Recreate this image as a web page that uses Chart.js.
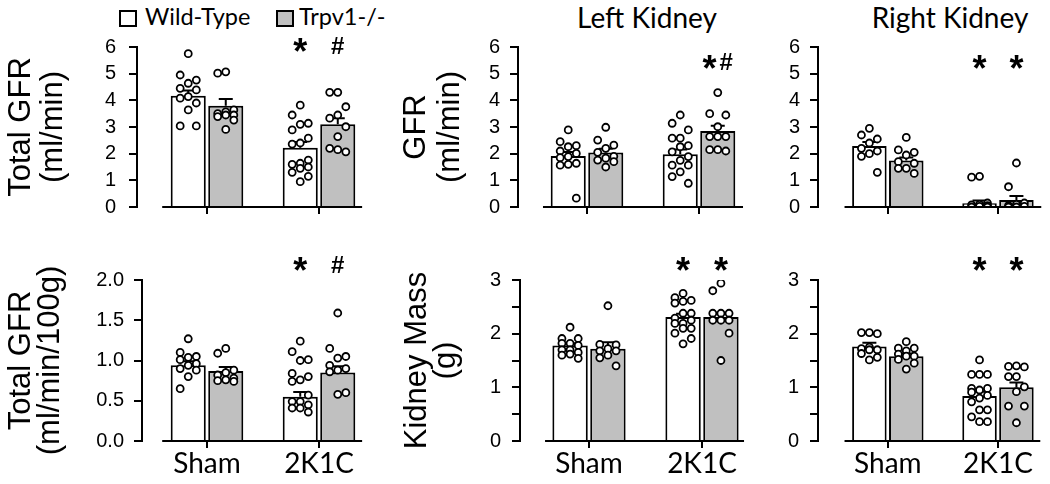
<!DOCTYPE html>
<html><head><meta charset="utf-8">
<script src="https://cdn.jsdelivr.net/npm/chart.js@4.4.1/dist/chart.umd.min.js"></script>
<style>
html,body{margin:0;padding:0;background:#fff;}
#wrap{position:relative;width:1050px;height:484px;overflow:hidden;background:#fff;}
#wrap canvas{position:absolute;left:0;top:0;}
.t{position:absolute;white-space:nowrap;font-family:Lato,sans-serif;line-height:1;color:#000;}
.sw{position:absolute;box-sizing:border-box;border:2px solid #000;}
</style></head><body>
<div id="wrap">
  <div class="sw" style="left:119px;top:10px;width:18px;height:17px;background:#fff"></div>
  <div class="t" style="left:145px;top:5px;font-size:23.5px">Wild-Type</div>
  <div class="sw" style="left:276px;top:10px;width:18px;height:17px;background:#c0c0c0"></div>
  <div class="t" style="left:299px;top:5px;font-size:23.5px">Trpv1-/-</div>
  <div class="t" style="left:547px;top:3px;width:200px;text-align:center;font-size:28px">Left Kidney</div>
  <div class="t" style="left:850px;top:3px;width:200px;text-align:center;font-size:28px">Right Kidney</div>
</div>
<script>
// ---------- categories / series / tick labels ----------
const CATEGORIES = ['Sham', '2K1C'];
const SERIES_NAMES = ['Wild-Type', 'Trpv1-/-'];
const Y_LABELS_GFR = ['0', '1', '2', '3', '4', '5', '6'];
const Y_LABELS_NORM = ['0.0', '0.5', '1.0', '1.5', '2.0'];
const Y_LABELS_MASS = ['0', '', '1', '', '2', '', '3'];

// ---------- Total GFR (ml/min) ----------
const TGFR_MEAN_WT = [4.17, 2.22];
const TGFR_MEAN_KO = [3.80, 3.10];
const TGFR_SEM_WT = [0.20, 0.22];
const TGFR_SEM_KO = [0.25, 0.23];
const TGFR_WT_SHAM = [5.75, 4.95, 4.76, 4.64, 4.45, 4.39, 4.14, 4.08, 3.90, 3.64, 3.04, 3.04];
const TGFR_KO_SHAM = [5.07, 5.02, 3.64, 3.57, 3.50, 3.45, 3.45, 3.39, 3.26, 2.91];
const TGFR_WT_2K1C = [3.82, 3.45, 3.14, 3.10, 2.89, 2.58, 2.40, 2.36, 1.76, 1.64, 1.60, 1.50, 1.45, 1.30, 1.15, 0.95];
const TGFR_KO_2K1C = [4.30, 4.30, 3.76, 3.45, 3.33, 3.01, 2.64, 2.20, 2.07, 2.15];
const TGFR_SIG = [['', ''], ['*', '#']];

// ---------- Left kidney GFR ----------
const LGFR_MEAN_WT = [1.91, 1.98];
const LGFR_MEAN_KO = [2.04, 2.85];
const LGFR_SEM_WT = [0.15, 0.18];
const LGFR_SEM_KO = [0.14, 0.20];
const LGFR_WT_SHAM = [2.89, 2.45, 2.30, 2.26, 2.10, 2.01, 1.89, 1.85, 1.64, 1.60, 1.57, 0.33];
const LGFR_KO_SHAM = [2.99, 2.51, 2.32, 2.20, 2.05, 1.90, 1.83, 1.76, 1.70, 1.50];
const LGFR_WT_2K1C = [3.45, 3.14, 2.89, 2.58, 2.58, 2.30, 2.26, 2.07, 1.89, 1.75, 1.57, 1.57, 1.32, 1.14, 0.89];
const LGFR_KO_2K1C = [4.29, 3.50, 3.45, 3.01, 2.64, 2.64, 2.64, 2.15, 2.10, 2.15];
const LGFR_SIG = [['', ''], ['', '*#']];

// ---------- Right kidney GFR ----------
const RGFR_MEAN_WT = [2.29, 0.14];
const RGFR_MEAN_KO = [1.74, 0.26];
const RGFR_SEM_WT = [0.15, 0.10];
const RGFR_SEM_KO = [0.12, 0.15];
const RGFR_WT_SHAM = [2.95, 2.70, 2.55, 2.40, 2.20, 2.10, 2.00, 1.90, 1.30];
const RGFR_KO_SHAM = [2.61, 2.14, 2.05, 1.95, 1.70, 1.64, 1.45, 1.45, 1.26];
const RGFR_WT_2K1C = [1.15, 1.12, 0.15, 0.10, 0.08, 0.05, 0.02, 0.00, 0.00];
const RGFR_KO_2K1C = [1.65, 0.76, 0.15, 0.10, 0.05, 0.02, 0.00, 0.00];
const RGFR_SIG = [['', ''], ['*', '*']];

// ---------- Total GFR (ml/min/100g) ----------
const NGFR_MEAN_WT = [0.94, 0.55];
const NGFR_MEAN_KO = [0.87, 0.85];
const NGFR_SEM_WT = [0.05, 0.06];
const NGFR_SEM_KO = [0.05, 0.08];
const NGFR_WT_SHAM = [1.27, 1.10, 1.05, 1.04, 1.01, 0.96, 0.94, 0.90, 0.88, 0.80, 0.65];
const NGFR_KO_SHAM = [1.15, 1.09, 0.88, 0.85, 0.82, 0.78, 0.76, 0.75, 0.74];
const NGFR_WT_2K1C = [1.24, 1.11, 1.01, 1.00, 0.84, 0.80, 0.76, 0.74, 0.57, 0.49, 0.49, 0.45, 0.41, 0.41, 0.36];
const NGFR_KO_2K1C = [1.59, 1.15, 1.05, 1.03, 0.94, 0.90, 0.88, 0.86, 0.60, 0.58];
const NGFR_SIG = [['', ''], ['*', '#']];

// ---------- Left kidney mass (g) ----------
const LMASS_MEAN_WT = [1.78, 2.31];
const LMASS_MEAN_KO = [1.72, 2.31];
const LMASS_SEM_WT = [0.04, 0.06];
const LMASS_SEM_KO = [0.12, 0.08];
const LMASS_WT_SHAM = [2.12, 1.91, 1.91, 1.82, 1.82, 1.78, 1.70, 1.70, 1.65, 1.62, 1.60, 1.54];
const LMASS_KO_SHAM = [2.52, 1.80, 1.79, 1.72, 1.68, 1.68, 1.60, 1.55, 1.40];
const LMASS_WT_2K1C = [2.75, 2.67, 2.62, 2.60, 2.57, 2.38, 2.38, 2.29, 2.25, 2.19, 2.19, 2.10, 2.10, 2.01, 1.91, 1.81];
const LMASS_KO_2K1C = [2.94, 2.80, 2.38, 2.38, 2.38, 2.25, 2.25, 2.25, 2.01, 1.50];
const LMASS_SIG = [['', ''], ['*', '*']];

// ---------- Right kidney mass (g) ----------
const RMASS_MEAN_WT = [1.76, 0.84];
const RMASS_MEAN_KO = [1.58, 1.00];
const RMASS_SEM_WT = [0.07, 0.08];
const RMASS_SEM_KO = [0.05, 0.09];
const RMASS_WT_SHAM = [2.02, 2.02, 2.00, 1.75, 1.72, 1.70, 1.70, 1.63, 1.56, 1.51];
const RMASS_KO_SHAM = [1.85, 1.73, 1.73, 1.68, 1.62, 1.58, 1.58, 1.52, 1.45, 1.34];
const RMASS_WT_2K1C = [1.51, 1.24, 1.24, 1.24, 0.98, 0.98, 0.95, 0.91, 0.85, 0.80, 0.73, 0.58, 0.58, 0.45, 0.36, 0.36];
const RMASS_KO_2K1C = [1.40, 1.39, 1.38, 1.20, 1.20, 1.01, 0.92, 0.65, 0.65, 0.34];
const RMASS_SIG = [['', ''], ['*', '*']];

// ---------- styling constants ----------
const FILLS = ['#ffffff', '#c0c0c0'];
const CAT_PCT = 0.67, BAR_PCT = 0.935;
const BAR_OFFSET = CAT_PCT / 4;
const JITTER = [0, -0.072, 0.072];
const SIG_FONTS = { '*': 'bold 36px "Liberation Sans"', '#': 'bold 24px "Liberation Sans"' };

const PANELS = [
  { means: [TGFR_MEAN_WT, TGFR_MEAN_KO], sems: [TGFR_SEM_WT, TGFR_SEM_KO],
    points: [[TGFR_WT_SHAM, TGFR_WT_2K1C], [TGFR_KO_SHAM, TGFR_KO_2K1C]], sig: TGFR_SIG,
    yMax: 6, yLabels: Y_LABELS_GFR, title: ['Total GFR', '(ml/min)'], showX: false,
    geo: { axisX: 137, top: 47, bottom: 207, x0: 207, unit: 112, right: 366, lineFrom: -0.40, lineTo: 1.385, c1: 21.6, lh: 32, tickPad: 13, sigPx: 45 } },
  { means: [LGFR_MEAN_WT, LGFR_MEAN_KO], sems: [LGFR_SEM_WT, LGFR_SEM_KO],
    points: [[LGFR_WT_SHAM, LGFR_WT_2K1C], [LGFR_KO_SHAM, LGFR_KO_2K1C]], sig: LGFR_SIG,
    yMax: 6, yLabels: Y_LABELS_GFR, title: ['GFR', '(ml/min)'], showX: false,
    geo: { axisX: 518, top: 47, bottom: 207, x0: 587, unit: 112, right: 746, lineFrom: -0.393, lineTo: 1.393, c1: 416.6, lh: 34, tickPad: 10, sigPx: 61.5 } },
  { means: [RGFR_MEAN_WT, RGFR_MEAN_KO], sems: [RGFR_SEM_WT, RGFR_SEM_KO],
    points: [[RGFR_WT_SHAM, RGFR_WT_2K1C], [RGFR_KO_SHAM, RGFR_KO_2K1C]], sig: RGFR_SIG,
    yMax: 6, yLabels: Y_LABELS_GFR, title: null, showX: false,
    geo: { axisX: 818, top: 47, bottom: 207, x0: 889, unit: 112, right: 1048, lineFrom: -0.393, lineTo: 1.393, tickPad: 10, sigPx: 61.5 } },
  { means: [NGFR_MEAN_WT, NGFR_MEAN_KO], sems: [NGFR_SEM_WT, NGFR_SEM_KO],
    points: [[NGFR_WT_SHAM, NGFR_WT_2K1C], [NGFR_KO_SHAM, NGFR_KO_2K1C]], sig: NGFR_SIG,
    yMax: 2, yLabels: Y_LABELS_NORM, title: ['Total GFR', '(ml/min/100g)'], showX: true,
    geo: { axisX: 142, top: 280, bottom: 441, x0: 207, unit: 112, right: 366, lineFrom: -0.40, lineTo: 1.385, c1: 21.6, lh: 29, tickPad: 10, sigPx: 264 } },
  { means: [LMASS_MEAN_WT, LMASS_MEAN_KO], sems: [LMASS_SEM_WT, LMASS_SEM_KO],
    points: [[LMASS_WT_SHAM, LMASS_WT_2K1C], [LMASS_KO_SHAM, LMASS_KO_2K1C]], sig: LMASS_SIG,
    yMax: 3, yLabels: Y_LABELS_MASS, title: ['Kidney Mass', '(g)'], showX: true,
    geo: { axisX: 520, top: 280, bottom: 441, x0: 589, unit: 113, right: 748, lineFrom: -0.389, lineTo: 1.372, c1: 417.6, lh: 29, tickPad: 11, sigPx: 263.5 } },
  { means: [RMASS_MEAN_WT, RMASS_MEAN_KO], sems: [RMASS_SEM_WT, RMASS_SEM_KO],
    points: [[RMASS_WT_SHAM, RMASS_WT_2K1C], [RMASS_KO_SHAM, RMASS_KO_2K1C]], sig: RMASS_SIG,
    yMax: 3, yLabels: Y_LABELS_MASS, title: null, showX: true,
    geo: { axisX: 818, top: 280, bottom: 441, x0: 889, unit: 112, right: 1048, lineFrom: -0.393, lineTo: 1.384, tickPad: 11, sigPx: 263.5 } }
];

const deco = {
  id: 'deco',
  afterDatasetDraw(chart, args) {
    const ds = chart.data.datasets[args.index];
    if (!ds.sem) return;
    const ctx = chart.ctx, ys = chart.scales.y;
    ctx.save();
    ctx.strokeStyle = '#000'; ctx.lineWidth = 2;
    args.meta.data.forEach((el, i) => {
      const top = ys.getPixelForValue(ds.data[i].y + ds.sem[i]);
      ctx.beginPath();
      ctx.moveTo(el.x, el.y); ctx.lineTo(el.x, top);
      ctx.moveTo(el.x - 7, top); ctx.lineTo(el.x + 7, top);
      ctx.stroke();
    });
    ctx.restore();
  },
  afterDraw(chart, args, opts) {
    const ctx = chart.ctx, xs = chart.scales.x;
    const yb = chart.chartArea.bottom;
    ctx.save();
    ctx.strokeStyle = '#000'; ctx.lineWidth = 2;
    ctx.beginPath();
    ctx.moveTo(xs.getPixelForValue(opts.lineFrom), yb);
    ctx.lineTo(xs.getPixelForValue(opts.lineTo), yb);
    ctx.stroke();
    // significance markers
    ctx.fillStyle = '#000';
    ctx.textAlign = 'left'; ctx.textBaseline = 'alphabetic';
    chart.data.datasets.forEach((ds, di) => {
      if (!ds.sig) return;
      const meta = chart.getDatasetMeta(di);
      ds.sig.forEach((txt, i) => {
        if (!txt) return;
        const chars = txt.split('');
        const gap = 3;
        const widths = chars.map(c => { ctx.font = SIG_FONTS[c]; return ctx.measureText(c).width; });
        const total = widths.reduce((a, b) => a + b, 0) + gap * (chars.length - 1);
        let x = meta.data[i].x - total / 2;
        chars.forEach((c, k) => {
          ctx.font = SIG_FONTS[c];
          const m = ctx.measureText(c);
          const y = opts.sigPx + (m.actualBoundingBoxAscent - m.actualBoundingBoxDescent) / 2;
          ctx.fillText(c, x, y);
          x += widths[k] + gap;
        });
      });
    });
    ctx.restore();
  }
};

function makeChart(p) {
  const g = p.geo;
  const titleLeft = p.title ? g.c1 - g.lh / 2 : g.axisX - 60;
  const xH = 40;
  const xmin = (g.axisX - g.x0) / g.unit, xmax = (g.right - g.x0) / g.unit;
  const canvas = document.createElement('canvas');
  canvas.width = 1050; canvas.height = 484;
  document.getElementById('wrap').appendChild(canvas);
  const datasets = [];
  p.means.forEach((m, s) => {
    datasets.push({
      type: 'bar', label: SERIES_NAMES[s],
      data: CATEGORIES.map((c, i) => ({ x: i, y: m[i] })),
      sem: p.sems[s], sig: p.sig.map(r => r[s]),
      backgroundColor: FILLS[s], borderColor: '#000', borderWidth: 2, borderSkipped: 'start',
      categoryPercentage: CAT_PCT, barPercentage: BAR_PCT, order: 1
    });
  });
  p.points.forEach((sp, s) => {
    const data = [];
    sp.forEach((vals, i) => vals.forEach((v, k) => data.push({ x: i + (s ? 1 : -1) * BAR_OFFSET + JITTER[k % JITTER.length], y: v })));
    datasets.push({
      type: 'scatter', label: SERIES_NAMES[s] + ' points', data, order: 0,
      pointRadius: 3.5, pointBackgroundColor: '#fff', pointBorderColor: '#000', pointBorderWidth: 1.8,
      showLine: false
    });
  });
  new Chart(canvas, {
    type: 'bar',
    data: { datasets },
    options: {
      responsive: false, animation: false, events: [],
      layout: { padding: { left: titleLeft, top: g.top, right: 1050 - g.right, bottom: 484 - g.bottom - xH } },
      plugins: {
        legend: { display: false }, tooltip: { enabled: false }, title: { display: false },
        deco: { lineFrom: g.lineFrom, lineTo: g.lineTo, sigPx: g.sigPx }
      },
      scales: {
        x: {
          type: 'linear', min: xmin, max: xmax, offset: false,
          afterFit: s => { s.height = xH; },
          afterBuildTicks: s => { s.ticks = CATEGORIES.map((c, i) => ({ value: i })); },
          grid: { offset: false, drawOnChartArea: false, drawTicks: true, tickLength: 7, color: '#000', lineWidth: 2 },
          border: { display: false },
          ticks: { autoSkip: false, maxRotation: 0, padding: 2, color: '#000',
            font: { family: 'Lato', size: 28, lineHeight: 1 },
            callback: (v, i) => p.showX ? CATEGORIES[i] : '' }
        },
        y: {
          type: 'linear', min: 0, max: p.yMax,
          afterFit: s => { s.width = g.axisX - titleLeft; },
          afterBuildTicks: s => { s.ticks = p.yLabels.map((l, i) => ({ value: i * p.yMax / (p.yLabels.length - 1) })); },
          grid: { drawOnChartArea: false, drawTicks: true, tickLength: 8, color: '#000', lineWidth: 2 },
          border: { display: true, color: '#000', width: 2 },
          ticks: { autoSkip: false, padding: g.tickPad, color: '#000',
            font: { family: 'Liberation Sans', size: 20 },
            callback: (v, i) => p.yLabels[i] },
          title: { display: !!p.title, text: p.title || '', padding: 0, color: '#000',
            font: { family: 'Liberation Sans', size: 31, lineHeight: (g.lh || 31) / 31 } }
        }
      }
    },
    plugins: [deco]
  });
}

PANELS.forEach(makeChart);
</script>
</body></html>
